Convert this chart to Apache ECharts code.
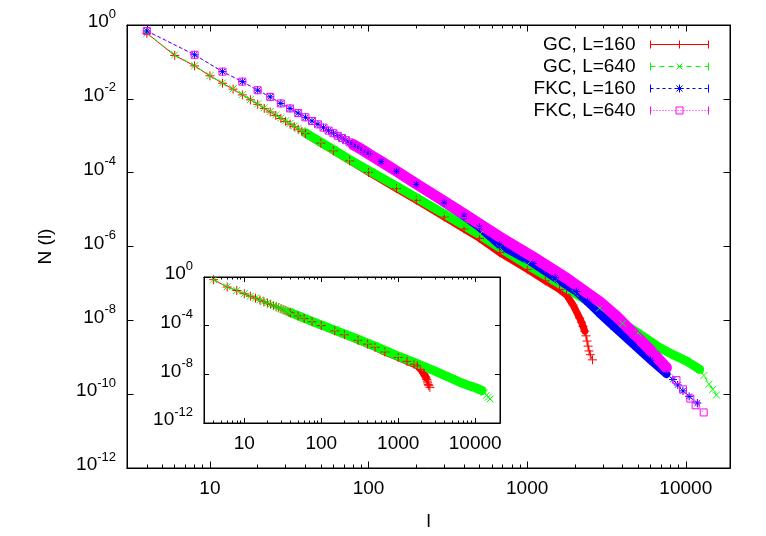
<!DOCTYPE html>
<html><head><meta charset="utf-8">
<script src="https://cdn.jsdelivr.net/npm/echarts@6/dist/echarts.min.js"></script>
<style>html,body{margin:0;padding:0;background:#fff}#c{width:766px;height:536px}</style>
</head><body><div id="c"></div>
<script>
// ---------------- data ----------------
const seriesNames = ['GC, L=160', 'GC, L=640', 'FKC, L=160', 'FKC, L=640'];

const gc160_l = [4,6,8,10,12,14,16,18,20,22,24,26,28,30,32,34,36,38,40,
  50,60,76,100,150,200,300,400,500,671,1000,1300,1600,
  1770,1947,2143,2200,2250,2307,2350,2385,2420,2455,2500,2580];
const gc160_n = [0.6,0.15,0.078,0.042,0.0265,0.0183,0.0128,0.0094,0.0071,0.0055,0.0044,0.00356,0.00293,0.00245,0.00207,0.00176,0.00151,0.00131,0.00114,
  6.3e-4,3.9e-4,2.09e-4,1.02e-4,3.7e-5,1.78e-5,6.3e-6,3.0e-6,1.66e-6,6.8e-7,2.4e-7,1.17e-7,6.8e-8,
  4.9e-8,2.6e-8,1.15e-8,8.9e-9,6.9e-9,5.1e-9,3.8e-9,2.75e-9,2.0e-9,1.48e-9,1.17e-9,8.5e-10];

const gc640_l = [4,6,8,10,12,14,16,18,20,22,24,26,28,30,32,34,36,38,40,
  50,60,76,100,150,200,300,400,500,671,1000,1500,2000,2863,4000,5000,6855,8500,10090,12240,
  13000,14000,14800,15600];
const gc640_n = [0.597,0.156,0.0789,0.0425,0.0269,0.0186,0.0131,0.0096,0.00728,0.0057,0.00454,0.00368,0.00304,0.00254,0.00215,0.00184,0.00158,0.00137,0.0012,
  6.7e-4,4.19e-4,2.26e-4,1.15e-4,4.3e-5,2.1e-5,7.6e-6,3.7e-6,2.1e-6,9.3e-7,3.2e-7,1.15e-7,5.4e-8,2.14e-8,8.3e-9,4.5e-9,1.82e-9,1.12e-9,7.9e-10,4.7e-10,
  3.2e-10,1.86e-10,1.35e-10,9.5e-11];

const fkc160_l = [4,8,12,16,20,24,28,32,36,40,44,48,52,56,60,64,68,72,76,80,84,88,92,96,100,
  120,150,200,300,400,500,671,1089,1500,2040,2400,2863,3500,4650,6000,7550,
  8300,8900,9590,10500,11830];
const fkc160_n = [0.69,0.156,0.0545,0.0293,0.0171,0.0113,0.0075,0.0055,0.00412,0.00316,0.00251,0.00204,0.00166,0.00138,0.00117,0.0010,8.7e-4,7.6e-4,6.6e-4,5.75e-4,5.1e-4,4.57e-4,4.07e-4,3.63e-4,3.24e-4,
  2.0e-4,1.1e-4,4.8e-5,1.51e-5,6.6e-6,3.3e-6,1.1e-6,3.5e-7,1.41e-7,6.0e-8,3.16e-8,1.51e-8,6.8e-9,2.24e-9,8.3e-10,3.5e-10,
  2.5e-10,1.78e-10,1.23e-10,8.7e-11,5.75e-11];

const fkc640_l = [4,8,12,16,20,24,28,32,36,40,44,48,52,56,60,64,68,72,76,80,84,88,92,96,100,
  120,150,200,300,400,500,671,1089,1770,2863,3654,4650,5930,7550,
  8730,9600,10680,11540,12970];
const fkc640_n = [0.69,0.156,0.0545,0.0293,0.0171,0.0113,0.0075,0.0055,0.00412,0.00316,0.00251,0.00204,0.00166,0.00138,0.00117,0.0010,8.7e-4,7.6e-4,6.6e-4,5.75e-4,5.1e-4,4.57e-4,4.07e-4,3.63e-4,3.24e-4,
  2.0e-4,1.1e-4,5.0e-5,1.66e-5,7.6e-6,4.1e-6,1.82e-6,5.2e-7,1.38e-7,3.2e-8,1.29e-8,4.6e-9,1.62e-9,5.2e-10,
  2.4e-10,1.35e-10,7.6e-11,5.0e-11,3.2e-11];

const xMajorTicks = [10, 100, 1000, 10000];
const xMinorTicks = [4,5,6,7,8,9,20,30,40,50,60,70,80,90,200,300,400,500,600,700,800,900,2000,3000,4000,5000,6000,7000,8000,9000];
const yMainTicks = [1, 1e-2, 1e-4, 1e-6, 1e-8, 1e-10, 1e-12];
const yInsetTicks = [1, 1e-4, 1e-8, 1e-12];

// ---------------- styling ----------------
const FONT = "'Liberation Sans', Arial, sans-serif";
const colors = ['#ff0000', '#00ff00', '#0000ff', '#ff00ff'];
const symbols = [
  'path://M0,5L10,5M5,0L5,10',
  'path://M0,0L10,10M10,0L0,10',
  'path://M0,5L10,5M5,0L5,10M1.5,1.5L8.5,8.5M8.5,1.5L1.5,8.5',
  'path://M0,0L10,0L10,10L0,10Z'
];
const symSizes = [9, 7, 8, 7];
const dashes = ['solid', [5, 4], [3, 3], [1, 2]];
const bandWidth = [7, 9, 8, 11];
const bandRange = [[40, 2307], [40, 12240], [80, 7550], [80, 7550]];
const data = [[gc160_l, gc160_n], [gc640_l, gc640_n], [fkc160_l, fkc160_n], [fkc640_l, fkc640_n]];

// legend sample icons: error-bar style line with caps + point marker in the middle
const legendMarks = [
  'M25,5L33,5M29,1L29,9',
  'M26,2L32,8M32,2L26,8',
  'M25,5L33,5M29,1L29,9M26,2L32,8M32,2L26,8',
  'M25.5,1.5L32.5,1.5L32.5,8.5L25.5,8.5Z'
];
function legendIcon(k) {
  let p = 'M0,1L0,9M58,1L58,9';
  const d = dashes[k];
  if (d === 'solid') p += 'M0,5L58,5';
  else for (let x = 0; x < 58; x += d[0] + d[1]) p += 'M' + x + ',5L' + Math.min(x + d[0], 58) + ',5';
  return 'path://' + p + legendMarks[k];
}

const supRich = {
  b: {fontSize: 19, fontFamily: FONT, color: '#000', verticalAlign: 'bottom', lineHeight: 20},
  s: {fontSize: 13, fontFamily: FONT, color: '#000', verticalAlign: 'bottom', padding: [0, 0, 11, 0]}
};
const powLabel = v => '{b|10}{s|' + Math.round(Math.log10(v)) + '}';
const numLabel = v => String(Math.round(v));

function xAxes(gi, min, max, majLen, minLen, name) {
  const common = {type: 'log', logBase: 10, gridIndex: gi, min: min, max: max,
    axisLine: {show: true, onZero: false, lineStyle: {color: '#000', width: 1}},
    splitLine: {show: false}, minorTick: {show: false}};
  const out = [];
  ['bottom', 'top'].forEach(pos => {
    out.push(Object.assign({}, common, {
      position: pos,
      axisTick: {show: true, inside: true, length: majLen, customValues: xMajorTicks, lineStyle: {color: '#000', width: 1}},
      axisLabel: pos === 'bottom' ? {show: true, customValues: xMajorTicks, formatter: numLabel, margin: 11, fontSize: 19, fontFamily: FONT, color: '#000'} : {show: false},
      name: (pos === 'bottom' && name) ? name : '',
      nameLocation: 'middle', nameGap: 44,
      nameTextStyle: {fontSize: 19, fontFamily: FONT, color: '#000'}
    }));
    out.push(Object.assign({}, common, {
      position: pos,
      axisTick: {show: true, inside: true, length: minLen, customValues: xMinorTicks, lineStyle: {color: '#000', width: 1}},
      axisLabel: {show: false}
    }));
  });
  return out;
}
function yAxes(gi, ticks, len, name) {
  const common = {type: 'log', logBase: 10, gridIndex: gi, min: 1e-12, max: 1,
    axisLine: {show: true, onZero: false, lineStyle: {color: '#000', width: 1}},
    splitLine: {show: false}, minorTick: {show: false}};
  return [
    Object.assign({}, common, {
      position: 'left',
      axisTick: {show: true, inside: true, length: len, customValues: ticks, lineStyle: {color: '#000', width: 1}},
      axisLabel: {show: true, customValues: ticks, margin: 11, formatter: powLabel, rich: supRich, padding: [0, 0, 11, 0]},
      name: name || '', nameLocation: 'middle', nameGap: 72,
      nameTextStyle: {fontSize: 19, fontFamily: FONT, color: '#000'}
    }),
    Object.assign({}, common, {
      position: 'right',
      axisTick: {show: true, inside: true, length: len, customValues: ticks, lineStyle: {color: '#000', width: 1}},
      axisLabel: {show: false}
    })
  ];
}

const series = [];
function addCurve(k, xi, yi, withName) {
  const [ls, ns] = data[k];
  const pts = ls.map((l, i) => [l, ns[i]]);
  const band = pts.filter(p => p[0] >= bandRange[k][0] && p[0] <= bandRange[k][1]);
  series.push({
    type: 'line', name: seriesNames[k] + ' band' + xi, xAxisIndex: xi, yAxisIndex: yi,
    data: band, showSymbol: false, symbol: 'none', silent: true,
    lineStyle: {color: colors[k], width: bandWidth[k], cap: 'round', join: 'round'},
    emphasis: {disabled: true}
  });
  series.push({
    type: 'line', name: withName ? seriesNames[k] : seriesNames[k] + ' inset', xAxisIndex: xi, yAxisIndex: yi,
    data: pts, symbol: symbols[k], symbolSize: symSizes[k], showAllSymbol: true, silent: true,
    itemStyle: {color: 'rgba(0,0,0,0)', borderColor: colors[k], borderWidth: 1},
    lineStyle: {color: colors[k], width: 1, type: dashes[k]},
    emphasis: {disabled: true}
  });
}
for (let k = 0; k < 4; k++) addCurve(k, 0, 0, true);
for (let k = 0; k < 2; k++) addCurve(k, 4, 2, false);

const option = {
  animation: false,
  backgroundColor: '#fff',
  grid: [
    {left: 127, top: 25, width: 603, height: 446, show: true, borderColor: '#000', borderWidth: 1, backgroundColor: 'rgba(0,0,0,0)'},
    {left: 204, top: 277, width: 296, height: 146, show: true, borderColor: '#000', borderWidth: 1, backgroundColor: '#fff'}
  ],
  xAxis: [].concat(xAxes(0, 3, 19000, 6.5, 3.5, 'l'), xAxes(1, 3, 21000, 5, 2.5, '')),
  yAxis: [].concat(yAxes(0, yMainTicks, 6.5, 'N (l)'), yAxes(1, yInsetTicks, 5, '')),
  legend: {
    data: seriesNames.map((n, k) => ({
      name: n,
      icon: legendIcon(k),
      itemStyle: {color: 'rgba(0,0,0,0)', borderColor: colors[k], borderWidth: 1}
    })),
    orient: 'vertical', right: 57, top: 35, align: 'right', padding: 0,
    itemWidth: 58, itemHeight: 8, itemGap: 3, selectedMode: false,
    textStyle: {fontSize: 19, fontFamily: FONT, color: '#000', padding: [0, 10, 0, 0]}
  },
  series: series
};
const chart = echarts.init(document.getElementById('c'), null, {renderer: 'canvas'});
chart.setOption(option);
</script>
</body></html>
